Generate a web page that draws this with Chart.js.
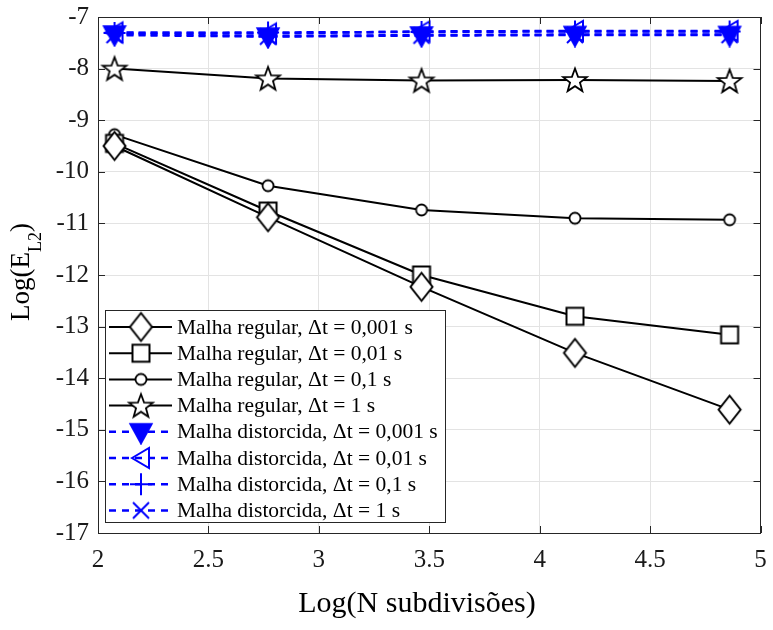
<!DOCTYPE html>
<html>
<head>
<meta charset="utf-8">
<script src="https://cdn.jsdelivr.net/npm/chart.js@4.4.1/dist/chart.umd.min.js"></script>
<style>
html,body{margin:0;padding:0;background:#fff;}
#wrap{width:773px;height:630px;position:relative;}
</style>
</head>
<body>
<div id="wrap"><canvas id="c" width="773" height="630"></canvas></div>
<script>
// ---- data ----
const xValues = [2.075, 2.77, 3.465, 4.16, 4.86];
const regular0001 = [-9.50, -10.88, -12.23, -13.51, -14.61];
const regular001  = [-9.45, -10.76, -12.00, -12.80, -13.16];
const regular01   = [-9.28, -10.27, -10.74, -10.90, -10.93];
const regular1    = [-8.00, -8.19, -8.23, -8.22, -8.24];
const distorted0001 = [-7.33, -7.37, -7.35, -7.34, -7.34];
const distorted001  = [-7.30, -7.32, -7.28, -7.27, -7.27];
const distorted01   = [-7.31, -7.30, -7.29, -7.28, -7.28];
const distorted1    = [-7.35, -7.38, -7.36, -7.35, -7.35];
const xTickLabels = ['2', '2.5', '3', '3.5', '4', '4.5', '5'];
const yTickLabels = ['-17', '-16', '-15', '-14', '-13', '-12', '-11', '-10', '-9', '-8', '-7'];
const seriesLabels = [
  'Malha regular, \u0394t = 0,001 s',
  'Malha regular, \u0394t = 0,01 s',
  'Malha regular, \u0394t = 0,1 s',
  'Malha regular, \u0394t = 1 s',
  'Malha distorcida, \u0394t = 0,001 s',
  'Malha distorcida, \u0394t = 0,01 s',
  'Malha distorcida, \u0394t = 0,1 s',
  'Malha distorcida, \u0394t = 1 s'
];
const xTitle = 'Log(N subdivis\u00f5es)';
const yTitleMain = 'Log(E';
const yTitleSub = 'L2';

const FONT = '"Liberation Serif", "Times New Roman", serif';
const BLUE = '#0000ff';
const BLACK = '#000000';

function mk(w, h, fn) {
  const c = document.createElement('canvas');
  c.width = w; c.height = h;
  const ctx = c.getContext('2d');
  ctx.translate(w / 2, h / 2);
  fn(ctx);
  return c;
}
const markers = {
  diamond: mk(27, 33, ctx => {
    ctx.beginPath(); ctx.moveTo(0, -14); ctx.lineTo(11, 0); ctx.lineTo(0, 14); ctx.lineTo(-11, 0); ctx.closePath();
    ctx.fillStyle = '#fff'; ctx.fill(); ctx.lineWidth = 2; ctx.strokeStyle = BLACK; ctx.stroke();
  }),
  square: mk(22, 22, ctx => {
    ctx.beginPath(); ctx.rect(-8.5, -8.5, 17, 17);
    ctx.fillStyle = '#fff'; ctx.fill(); ctx.lineWidth = 2; ctx.strokeStyle = BLACK; ctx.stroke();
  }),
  circle: mk(16, 16, ctx => {
    ctx.beginPath(); ctx.arc(0, 0, 5.5, 0, Math.PI * 2);
    ctx.fillStyle = '#fff'; ctx.fill(); ctx.lineWidth = 1.8; ctx.strokeStyle = BLACK; ctx.stroke();
  }),
  star: mk(30, 30, ctx => {
    ctx.beginPath();
    for (let i = 0; i < 10; i++) {
      const r = i % 2 === 0 ? 12.5 : 5.2;
      const a = -Math.PI / 2 + i * Math.PI / 5;
      const px = Math.cos(a) * r, py = Math.sin(a) * r + 1;
      if (i === 0) ctx.moveTo(px, py); else ctx.lineTo(px, py);
    }
    ctx.closePath();
    ctx.fillStyle = '#fff'; ctx.fill(); ctx.lineWidth = 1.8; ctx.strokeStyle = BLACK; ctx.lineJoin = 'miter'; ctx.stroke();
  }),
  triDown: mk(26, 26, ctx => {
    ctx.beginPath(); ctx.moveTo(-11, -8); ctx.lineTo(11, -8); ctx.lineTo(0, 12); ctx.closePath();
    ctx.fillStyle = BLUE; ctx.fill(); ctx.lineWidth = 1.5; ctx.strokeStyle = BLUE; ctx.stroke();
  }),
  triLeft: mk(26, 26, ctx => {
    ctx.beginPath(); ctx.moveTo(-9, 0); ctx.lineTo(8, -10); ctx.lineTo(8, 10); ctx.closePath();
    ctx.lineWidth = 2; ctx.strokeStyle = BLUE; ctx.stroke();
  }),
  plus: mk(26, 26, ctx => {
    ctx.beginPath(); ctx.moveTo(-11, 0); ctx.lineTo(11, 0); ctx.moveTo(0, -11); ctx.lineTo(0, 11);
    ctx.lineWidth = 2; ctx.strokeStyle = BLUE; ctx.stroke();
  }),
  cross: mk(22, 22, ctx => {
    ctx.beginPath(); ctx.moveTo(-8, -8); ctx.lineTo(8, 8); ctx.moveTo(8, -8); ctx.lineTo(-8, 8);
    ctx.lineWidth = 2; ctx.strokeStyle = BLUE; ctx.stroke();
  })
};

const seriesValues = [regular0001, regular001, regular01, regular1, distorted0001, distorted001, distorted01, distorted1];
const seriesMarkers = ['diamond', 'square', 'circle', 'star', 'triDown', 'triLeft', 'plus', 'cross'];

const datasets = seriesValues.map((vals, i) => {
  const dist = i >= 4;
  return {
    label: seriesLabels[i],
    data: xValues.map((x, j) => ({ x: x, y: vals[j] })),
    borderColor: dist ? BLUE : BLACK,
    backgroundColor: dist ? BLUE : BLACK,
    borderWidth: dist ? 2.5 : 2,
    borderDash: dist ? [7, 5] : [],
    pointStyle: markers[seriesMarkers[i]],
    pointRadius: 10,
    pointHoverRadius: 10,
    tension: 0,
    fill: false,
    order: dist ? i - 8 : i
  };
});

const framePlugin = {
  id: 'frame',
  afterDatasetsDraw(chart) {
    const ctx = chart.ctx, a = chart.chartArea;
    const xs = chart.scales.x, ys = chart.scales.y;
    ctx.save();
    ctx.strokeStyle = '#262626';
    ctx.lineWidth = 1;
    ctx.beginPath();
    xs.ticks.forEach(t => {
      const px = Math.round(xs.getPixelForValue(t.value)) + 0.5;
      ctx.moveTo(px, a.bottom); ctx.lineTo(px, a.bottom - 7);
      ctx.moveTo(px, a.top); ctx.lineTo(px, a.top + 7);
    });
    ys.ticks.forEach(t => {
      const py = Math.round(ys.getPixelForValue(t.value)) + 0.5;
      ctx.moveTo(a.left, py); ctx.lineTo(a.left + 7, py);
      ctx.moveTo(a.right, py); ctx.lineTo(a.right - 7, py);
    });
    ctx.stroke();
    ctx.strokeStyle = '#262626';
    ctx.strokeRect(Math.round(a.left) + 0.5, Math.round(a.top) + 0.5, Math.round(a.right - a.left) - 1, Math.round(a.bottom - a.top));

    // legend
    const lx = 105, ly = 310, lw = 340, lh = 212;
    ctx.fillStyle = '#fff';
    ctx.fillRect(lx, ly, lw, lh);
    ctx.strokeStyle = '#262626';
    ctx.lineWidth = 1;
    ctx.strokeRect(lx + 0.5, ly + 0.5, lw, lh);
    ctx.font = '21.5px ' + FONT;
    ctx.textBaseline = 'middle';
    ctx.textAlign = 'left';
    seriesLabels.forEach((lab, i) => {
      const cy = ly + 17 + i * 26.2;
      const dist = i >= 4;
      ctx.save();
      ctx.strokeStyle = dist ? BLUE : BLACK;
      ctx.lineWidth = dist ? 2.5 : 2;
      ctx.setLineDash(dist ? [7, 6] : []);
      ctx.beginPath(); ctx.moveTo(109, cy); ctx.lineTo(172, cy); ctx.stroke();
      ctx.restore();
      const m = markers[seriesMarkers[i]];
      ctx.drawImage(m, 141 - m.width / 2, cy - m.height / 2);
      ctx.fillStyle = '#000';
      ctx.fillText(lab, 177, cy + 1);
    });

    // axis titles
    ctx.fillStyle = '#000';
    ctx.font = '30px ' + FONT;
    ctx.textAlign = 'center';
    ctx.textBaseline = 'middle';
    ctx.fillText(xTitle, 417, 604);

    ctx.save();
    ctx.translate(30, 272);
    ctx.rotate(-Math.PI / 2);
    ctx.textAlign = 'left';
    ctx.textBaseline = 'alphabetic';
    ctx.font = '27px ' + FONT;
    const w1 = ctx.measureText(yTitleMain).width;
    const w3 = ctx.measureText(')').width;
    ctx.font = '18px ' + FONT;
    const w2 = ctx.measureText(yTitleSub).width;
    const total = w1 + w2 + w3;
    let sx = -total / 2;
    ctx.font = '27px ' + FONT;
    ctx.fillText(yTitleMain, sx, -1);
    ctx.font = '18px ' + FONT;
    ctx.fillText(yTitleSub, sx + w1, 11);
    ctx.font = '27px ' + FONT;
    ctx.fillText(')', sx + w1 + w2, -1);
    ctx.restore();
    ctx.restore();
  }
};

new Chart(document.getElementById('c'), {
  type: 'line',
  data: { datasets: datasets },
  options: {
    responsive: false,
    animation: false,
    devicePixelRatio: 1,
    layout: { padding: { top: 17, right: 4, left: 0, bottom: 0 } },
    plugins: { legend: { display: false }, tooltip: { enabled: false } },
    scales: {
      x: {
        type: 'linear', min: 2, max: 5,
        ticks: {
          stepSize: 0.5, color: '#1a1a1a', font: { family: FONT, size: 25 }, padding: 12, maxRotation: 0,
          callback: (v, idx) => xTickLabels[idx]
        },
        grid: { color: '#e3e3e3', drawTicks: false },
        border: { display: false },
        afterFit(s) { s.height = 97; s.paddingLeft = 0; s.paddingRight = 0; }
      },
      y: {
        type: 'linear', min: -17, max: -7,
        ticks: {
          stepSize: 1, color: '#1a1a1a', font: { family: FONT, size: 25 }, padding: 9,
          callback: (v, idx) => yTickLabels[idx]
        },
        grid: { color: '#e3e3e3', drawTicks: false },
        border: { display: false },
        afterFit(s) { s.width = 98; s.paddingTop = 0; s.paddingBottom = 0; }
      }
    }
  },
  plugins: [framePlugin]
});
</script>
</body>
</html>
